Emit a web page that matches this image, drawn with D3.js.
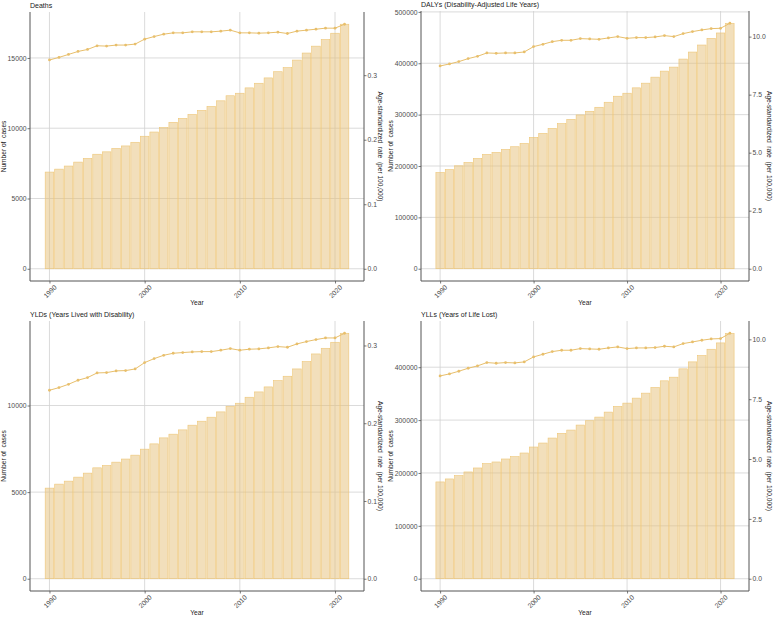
<!DOCTYPE html>
<html>
<head>
<meta charset="utf-8">
<script src="https://cdn.jsdelivr.net/npm/d3@7"></script>
<style>
  body { margin: 0; background: #fff; }
  svg { display: block; font-family: "Liberation Sans", Arial, sans-serif; }
</style>
</head>
<body>
<div id="chart"></div>
<script>
'use strict';

// Years on the x axis
const years = [1990, 1991, 1992, 1993, 1994, 1995, 1996, 1997, 1998, 1999,
  2000, 2001, 2002, 2003, 2004, 2005, 2006, 2007, 2008, 2009,
  2010, 2011, 2012, 2013, 2014, 2015, 2016, 2017, 2018, 2019, 2020, 2021];
const xTicks = [1990, 2000, 2010, 2020];

// Deaths
const deathsCases = [6880, 7090, 7310, 7590, 7850, 8150, 8320, 8560, 8740, 9000,
  9430, 9730, 10040, 10420, 10700, 10980, 11270, 11550, 11950, 12310,
  12490, 12870, 13200, 13580, 14020, 14310, 14850, 15350, 15840, 16310, 16760, 17400];
const deathsRate = [0.3236, 0.3276, 0.3322, 0.3368, 0.3399, 0.3456, 0.3451, 0.3467, 0.3467, 0.3482,
  0.3559, 0.3599, 0.3636, 0.3656, 0.3656, 0.3672, 0.3672, 0.3672, 0.3683, 0.3698,
  0.3656, 0.3656, 0.3652, 0.3656, 0.3667, 0.3646, 0.3683, 0.3698, 0.3713, 0.3729, 0.3729, 0.3790];
const deathsLeftTicks = [0, 5000, 10000, 15000];
const deathsRightTicks = [0, 0.1, 0.2, 0.3];

// DALYs
const dalysCases = [187300, 193160, 200330, 206840, 214660, 222480, 226380, 232250, 237460, 243970,
  255700, 263520, 273290, 282410, 290880, 299350, 306510, 314330, 324100, 335830,
  341690, 352120, 361240, 372960, 384690, 392510, 408140, 421820, 435500, 448530, 458960, 477850];
const dalysRate = [8.736, 8.822, 8.923, 9.052, 9.152, 9.296, 9.282, 9.296, 9.296, 9.339,
  9.569, 9.670, 9.784, 9.842, 9.842, 9.914, 9.899, 9.885, 9.943, 10.000,
  9.928, 9.957, 9.957, 9.986, 10.043, 10.000, 10.129, 10.216, 10.287, 10.345, 10.359, 10.575];
const dalysLeftTicks = [0, 100000, 200000, 300000, 400000, 500000];
const dalysRightTicks = [0, 2.5, 5, 7.5, 10];

// YLDs
const yldsCases = [5231, 5461, 5634, 5865, 6096, 6401, 6534, 6730, 6910, 7134,
  7480, 7785, 8131, 8345, 8593, 8864, 9094, 9325, 9631, 9958,
  10132, 10478, 10784, 11073, 11436, 11689, 12111, 12532, 12976, 13304, 13651, 14170];
const yldsRate = [0.2424, 0.2458, 0.2501, 0.2553, 0.2587, 0.2647, 0.2651, 0.2673, 0.2677, 0.2698,
  0.2780, 0.2831, 0.2874, 0.2900, 0.2909, 0.2917, 0.2921, 0.2921, 0.2939, 0.2960,
  0.2939, 0.2952, 0.2956, 0.2969, 0.2986, 0.2977, 0.3020, 0.3050, 0.3076, 0.3097, 0.3097, 0.3157];
const yldsLeftTicks = [0, 5000, 10000];
const yldsRightTicks = [0, 0.1, 0.2, 0.3];

// YLLs
const yllsCases = [183020, 188680, 194970, 201890, 209430, 217610, 220750, 226420, 230820, 237740,
  249060, 256600, 266040, 274840, 281130, 290570, 298740, 305660, 315090, 325790,
  332080, 341510, 350940, 361640, 374210, 381130, 396860, 410060, 422010, 433960, 445910, 464150];
const yllsRate = [8.472, 8.556, 8.667, 8.792, 8.890, 9.029, 9.001, 9.029, 9.015, 9.057,
  9.265, 9.377, 9.488, 9.544, 9.544, 9.613, 9.599, 9.585, 9.641, 9.683,
  9.613, 9.641, 9.641, 9.655, 9.711, 9.683, 9.822, 9.891, 9.961, 10.017, 10.031, 10.253];
const yllsLeftTicks = [0, 100000, 200000, 300000, 400000];
const yllsRightTicks = [0, 2.5, 5, 7.5, 10];

const panels = [
  { title: "Deaths", cases: deathsCases, rate: deathsRate, lt: deathsLeftTicks, rt: deathsRightTicks,
    box: { left: 30, right: 364, top: 12, bottom: 281 } },
  { title: "DALYs (Disability-Adjusted Life Years)", cases: dalysCases, rate: dalysRate, lt: dalysLeftTicks, rt: dalysRightTicks,
    box: { left: 421, right: 749, top: 11, bottom: 281 } },
  { title: "YLDs (Years Lived with Disability)", cases: yldsCases, rate: yldsRate, lt: yldsLeftTicks, rt: yldsRightTicks,
    box: { left: 30, right: 364, top: 321, bottom: 591 } },
  { title: "YLLs (Years of Life Lost)", cases: yllsCases, rate: yllsRate, lt: yllsLeftTicks, rt: yllsRightTicks,
    box: { left: 421, right: 749, top: 321, bottom: 591 } }
];

const width = 774, height = 617;
const barFill = "#E6BF78", barStroke = "#EEC676", lineColor = "#E8BF6C";
const gridColor = "#D2D2D2", axisColor = "#555555", textColor = "#4D4D4D";
const tickFont = "6.8px", titleFont = "6.6px";

const svg = d3.select("#chart").append("svg")
  .attr("width", width)
  .attr("height", height);

panels.forEach(p => {
  const b = p.box;
  const g = svg.append("g");
  const data = years.map((y, i) => ({ year: y, cases: p.cases[i], rate: p.rate[i] }));

  const maxCases = d3.max(p.cases);
  const factor = maxCases / d3.max(p.rate);

  // ggplot-like 5% expansion
  const x = d3.scaleLinear()
    .domain([1990 - 0.45 - 0.05 * 31.9, 2021 + 0.45 + 0.05 * 31.9])
    .range([b.left, b.right]);
  const y = d3.scaleLinear()
    .domain([-0.05 * maxCases, 1.05 * maxCases])
    .range([b.bottom, b.top]);
  const yRight = d3.scaleLinear()
    .domain(y.domain().map(v => v / factor))
    .range([b.bottom, b.top]);

  // grid
  g.append("g").selectAll("line").data(xTicks).join("line")
    .attr("x1", d => x(d)).attr("x2", d => x(d))
    .attr("y1", b.top).attr("y2", b.bottom)
    .attr("stroke", gridColor).attr("stroke-width", 0.8);
  g.append("g").selectAll("line").data(p.lt).join("line")
    .attr("x1", b.left).attr("x2", b.right)
    .attr("y1", d => y(d)).attr("y2", d => y(d))
    .attr("stroke", gridColor).attr("stroke-width", 0.8);

  // bars
  const bw = x(1990.45) - x(1989.55);
  g.append("g").selectAll("rect").data(data).join("rect")
    .attr("x", d => x(d.year - 0.45))
    .attr("y", d => y(d.cases))
    .attr("width", bw)
    .attr("height", d => y(0) - y(d.cases))
    .attr("fill", barFill)
    .attr("fill-opacity", 0.5)
    .attr("stroke", barStroke)
    .attr("stroke-width", 0.6);

  // rate line
  const line = d3.line().x(d => x(d.year)).y(d => y(d.rate * factor));
  g.append("path").datum(data)
    .attr("d", line)
    .attr("fill", "none")
    .attr("stroke", lineColor)
    .attr("stroke-width", 1);
  g.append("g").selectAll("circle").data(data).join("circle")
    .attr("cx", d => x(d.year))
    .attr("cy", d => y(d.rate * factor))
    .attr("r", 1.4)
    .attr("fill", lineColor);

  // axes
  const left = g.append("g").attr("transform", `translate(${b.left},0)`)
    .call(d3.axisLeft(y).tickValues(p.lt).tickFormat(d3.format("d")).tickSize(2.5).tickPadding(1));
  const right = g.append("g").attr("transform", `translate(${b.right},0)`)
    .call(d3.axisRight(yRight).tickValues(p.rt).tickFormat(d3.format(".1f")).tickSize(2.5).tickPadding(1));
  const bottom = g.append("g").attr("transform", `translate(0,${b.bottom})`)
    .call(d3.axisBottom(x).tickValues(xTicks).tickFormat(d3.format("d")).tickSize(2.5).tickPadding(2));

  [left, right, bottom].forEach(a => {
    a.select(".domain").remove();
    a.attr("font-family", null).attr("font-size", null);
    a.selectAll(".tick line").attr("stroke", axisColor).attr("stroke-width", 0.8);
    a.selectAll(".tick text").attr("fill", textColor).style("font-size", tickFont);
  });
  bottom.selectAll(".tick text")
    .attr("text-anchor", "middle")
    .attr("dy", null)
    .attr("y", 0)
    .attr("dominant-baseline", "central")
    .attr("transform", "translate(0,10.5) rotate(-45)");

  // axis lines (left, bottom, right)
  g.append("path")
    .attr("d", `M${b.left},${b.top}V${b.bottom}H${b.right}V${b.top}`)
    .attr("fill", "none")
    .attr("stroke", axisColor)
    .attr("stroke-width", 1);

  // titles
  g.append("text")
    .attr("x", b.left)
    .attr("y", b.top - 4)
    .attr("fill", "#222")
    .style("font-size", "7px")
    .text(p.title);

  g.append("text")
    .attr("x", (b.left + b.right) / 2)
    .attr("y", b.bottom + 24)
    .attr("text-anchor", "middle")
    .attr("fill", "#222")
    .style("font-size", titleFont)
    .text("Year");

  const lw = d3.max(left.selectAll(".tick text").nodes(), n => n.getComputedTextLength());
  const rw = d3.max(right.selectAll(".tick text").nodes(), n => n.getComputedTextLength());
  const midY = (b.top + b.bottom) / 2;

  g.append("text")
    .attr("transform", `translate(${b.left - 3.5 - lw - 1.5},${midY}) rotate(-90)`)
    .attr("text-anchor", "middle")
    .attr("fill", "#222")
    .style("font-size", titleFont)
    .style("white-space", "pre")
    .text("Number of  cases");

  g.append("text")
    .attr("transform", `translate(${b.right + 3.5 + rw + 1.5},${midY}) rotate(90)`)
    .attr("text-anchor", "middle")
    .attr("fill", "#222")
    .style("font-size", titleFont)
    .style("white-space", "pre")
    .text("Age-standardized  rate  (per 100,000)");
});
</script>
</body>
</html>
